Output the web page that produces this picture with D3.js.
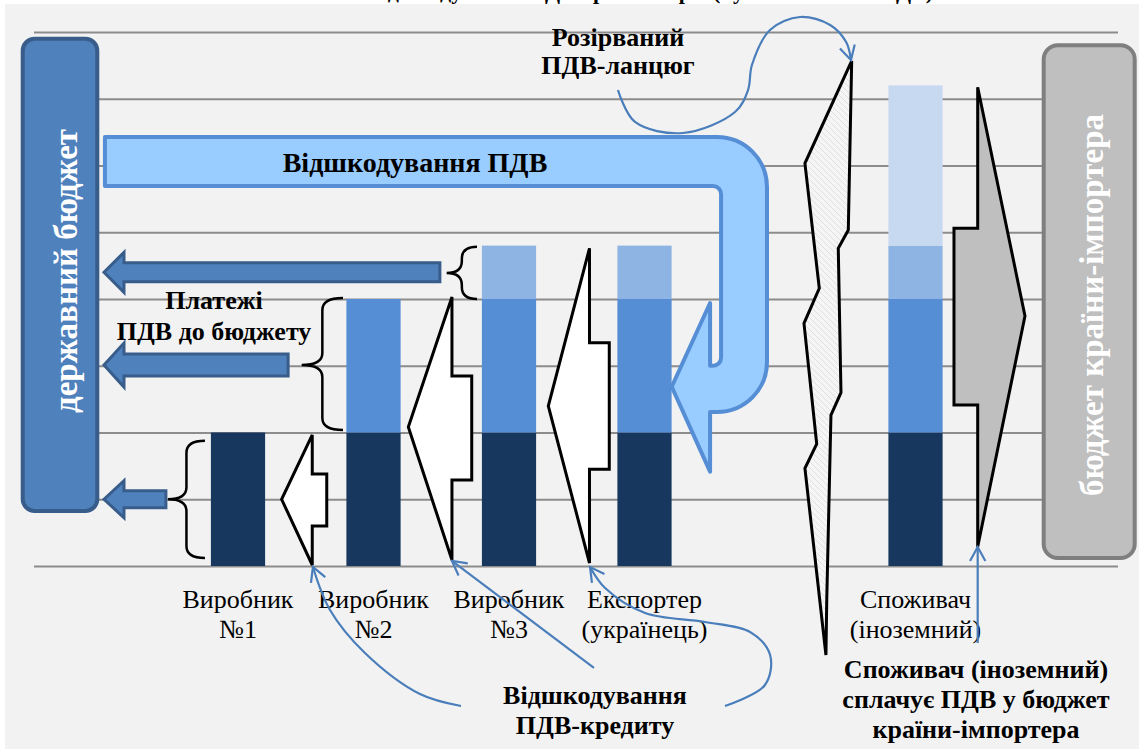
<!DOCTYPE html>
<html>
<head>
<meta charset="utf-8">
<script src="https://cdn.jsdelivr.net/npm/d3@7"></script>
<style>
  body { margin: 0; background: #fff; }
  svg { display: block; }
  text { font-family: "Liberation Serif", "Times New Roman", "DejaVu Serif", serif; }
</style>
</head>
<body>
<div id="chart"></div>
<script>
// ---- data ----
const slots = ["s0", "Виробник №1", "Виробник №2", "Виробник №3", "Експортер (українець)", "s5", "Споживач (іноземний)", "s7"]
const labels = [[], ["Виробник", "№1"], ["Виробник", "№2"], ["Виробник", "№3"], ["Експортер", "(українець)"], [], ["Споживач", "(іноземний)"], []]
const keys = ["base", "vat2", "vat3", "foreign"]
const base    = [0, 2, 2, 2,   2,   0, 2,   0]
const vat2    = [0, 0, 2, 2,   2,   0, 2,   0]
const vat3    = [0, 0, 0, 0.8, 0.8, 0, 0.8, 0]
const foreign = [0, 0, 0, 0,   0,   0, 2.4, 0]
const colors = ["#17375E", "#558ED5", "#8EB4E3", "#C6D9F1"]
const yTicks = [0, 1, 2, 3, 4, 5, 6, 7, 8]

// credit arrows (white), in [slot units, value units]
const creditA = [[2.048, 1.963], [2.048, 1.378], [2.155, 1.378], [2.155, 0.599], [2.048, 0.599], [2.048, 0.015], [1.822, 0.999]]
const creditB = [[3.079, 4.03], [3.079, 2.846], [3.225, 2.846], [3.225, 1.288], [3.079, 1.288], [3.079, 0.09], [2.757, 2.082]]
const creditC = [[4.094, 4.76], [4.094, 3.345], [4.240, 3.345], [4.240, 1.449], [4.094, 1.449], [4.094, 0.045], [3.790, 2.397]]
const importVat = [[6.959, 7.172], [7.308, 3.745], [6.959, 0.289], [6.959, 2.412], [6.784, 2.412], [6.784, 5.059], [6.959, 5.059]]
const brokenChain = [[6.029, 7.566], [6.004, 5.034], [5.930, 4.760], [5.950, 2.596], [5.876, 2.262], [5.845, -0.509], [5.839, -1.333],
                     [5.684, 1.464], [5.771, 1.828], [5.677, 3.636], [5.790, 4.160], [5.684, 6.033]]
// payments to budget: tail (slot units), centre (value), half shaft / half head (px)
const payments = [
  {tail: 2.99, v: 4.40, shaft: 9.5, head: 20},
  {tail: 1.87, v: 3.01, shaft: 11, head: 22},
  {tail: 0.968, v: 1.0, shaft: 8.5, head: 18.5}
]
const braces = [
  {tip: 0.983, right: 1.256, v0: 1.877, v1: 0.12, vm: 1.0},
  {tip: 1.970, right: 2.275, v0: 4.015, v1: 2.037, vm: 3.01},
  {tip: 3.040, right: 3.264, v0: 4.783, v1: 4.0, vm: 4.39}
]
// connectors (thin blue lines with arrow at the end)
const linkChain = [[4.304, 7.131], [4.430, 6.652], [4.784, 6.487], [5.168, 6.801], [5.264, 7.131], [5.293, 7.506], [5.426, 8.030], [5.648, 8.225], [5.870, 8.105], [5.988, 7.850], [6.024, 7.581]]
const linkCreditA = [[3.146, -2.097], [2.843, -1.918], [2.437, -1.303], [2.179, -0.659], [2.053, -0.015]]
const linkCreditB = [[4.127, -1.528], [3.079, 0.075]]
const linkCreditC = [[5.094, -2.097], [5.389, -1.783], [5.427, -1.333], [5.279, -0.989], [4.947, -0.839], [4.504, -0.704], [4.209, -0.330], [4.098, -0.015]]
const linkConsumer = [[6.959, -1.154], [6.959, 0.285]]

// ---- layout ----
const width = 1139
const height = 749
const serif = "Liberation Serif, Times New Roman, serif"
const svg = d3.select("#chart").append("svg").attr("width", width).attr("height", height)
  .attr("font-family", serif)

const x = d3.scaleBand().domain(slots).range([34.75, 1118.75]).paddingInner(0.6).paddingOuter(0.3)
const xs = d3.scaleLinear().domain([0, 8]).range([34.75, 1118.75])
const y = d3.scaleLinear().domain([0, 8]).range([566, 32])
const P = d => [xs(d[0]), y(d[1])]

const defs = svg.append("defs")
const pat = defs.append("pattern").attr("id", "hatch").attr("patternUnits", "userSpaceOnUse")
  .attr("width", 6).attr("height", 6)
pat.append("rect").attr("width", 6).attr("height", 6).attr("fill", "#f5f5f5")
pat.append("path").attr("d", "M0,0L6,6M-1,5L1,7M5,-1L7,1").attr("stroke", "#e0e0e0").attr("stroke-width", 1)

// background
svg.append("rect").attr("x", 5).attr("y", 4).attr("width", width - 5).attr("height", height - 4).attr("fill", "#f2f2f2")

// title, cut off at the top edge as in the source
svg.append("text").attr("x", 650).attr("y", -1).attr("text-anchor", "middle")
  .attr("font-size", 22).attr("font-weight", "bold").attr("fill", "#000")
  .text("Відшкодування ПДВ при експорті (нульова ставка ПДВ)")

// grid
const grid = svg.append("g").attr("transform", "translate(34,0)")
  .call(d3.axisLeft(y).tickValues(yTicks).tickSize(-1084).tickFormat(""))
grid.select(".domain").remove()
grid.selectAll("line").attr("stroke", "#8c8c8c").attr("stroke-width", 2)

// stacked bars
const rows = slots.map((s, i) => ({slot: s, base: base[i], vat2: vat2[i], vat3: vat3[i], foreign: foreign[i]}))
const series = d3.stack().keys(keys)(rows)
svg.append("g").selectAll("g").data(series).join("g")
  .attr("fill", (d, i) => colors[i])
  .selectAll("rect").data(d => d.filter(e => e[1] > e[0])).join("rect")
  .attr("x", d => x(d.data.slot))
  .attr("width", x.bandwidth())
  .attr("y", d => y(d[1]))
  .attr("height", d => y(d[0]) - y(d[1]))

// category labels
const lab = svg.append("g").attr("font-size", 26).attr("fill", "#000").attr("text-anchor", "middle")
slots.forEach((s, i) => {
  labels[i].forEach((t, j) => {
    lab.append("text").attr("x", x(s) + x.bandwidth() / 2).attr("y", 608 + j * 30)
      .attr("font-family", serif).text(t)
  })
})

// credit arrows & import arrow & broken chain
const poly = d3.line().x(d => xs(d[0])).y(d => y(d[1]))
svg.append("g").selectAll("path").data([creditA, creditB, creditC]).join("path")
  .attr("d", d => poly(d) + "Z").attr("fill", "#fff").attr("stroke", "#000").attr("stroke-width", 3)
svg.append("path").attr("d", poly(importVat) + "Z").attr("fill", "#bfbfbf").attr("stroke", "#000").attr("stroke-width", 3)
svg.append("path").attr("d", poly(brokenChain) + "Z").attr("fill", "url(#hatch)").attr("stroke", "#000").attr("stroke-width", 3)

// big U-turn arrow "Відшкодування ПДВ"
{
  const L = xs(0.518), R = xs(5.404), Ri = xs(5.065), H = xs(4.984), T = xs(4.701)
  const top = y(6.427), bandB = y(5.693), innerB = y(3.0), bot = y(2.307)
  const headT = y(3.94), tipY = y(2.686), headB = y(1.413)
  const r = 50, ri = 8
  const d = `M${L},${top}H${R - r}A${r},${r} 0 0 1 ${R},${top + r}V${bot - r}A${r},${r} 0 0 1 ${R - r},${bot}` +
    `H${H}V${headB}L${T},${tipY}L${H},${headT}V${innerB}H${Ri - ri}A${ri},${ri} 0 0 0 ${Ri},${innerB - ri}` +
    `V${bandB + ri}A${ri},${ri} 0 0 0 ${Ri - ri},${bandB}H${L}Z`
  svg.append("path").attr("d", d).attr("fill", "#99ccff").attr("stroke", "#558ed5").attr("stroke-width", 4)
    .attr("stroke-linejoin", "round")
  svg.append("text").attr("x", 415).attr("y", 172).attr("text-anchor", "middle").attr("font-family", serif)
    .attr("font-size", 28).attr("font-weight", "bold").text("Відшкодування ПДВ")
}

// payments to the budget
const tipX = xs(0.511)
svg.append("g").selectAll("path").data(payments).join("path")
  .attr("d", d => {
    const cy = y(d.v), hl = 20, t = xs(d.tail)
    return `M${tipX},${cy}L${tipX + hl},${cy - d.head}L${tipX + hl},${cy - d.shaft}L${t},${cy - d.shaft}` +
      `L${t},${cy + d.shaft}L${tipX + hl},${cy + d.shaft}L${tipX + hl},${cy + d.head}Z`
  })
  .attr("fill", "#4f81bd").attr("stroke", "#385d8a").attr("stroke-width", 3)

// braces
svg.append("g").selectAll("path").data(braces).join("path")
  .attr("d", b => {
    const xl = xs(b.tip), xr = xs(b.right), xm = (xl + xr) / 2
    const y0 = y(b.v0), y1 = y(b.v1), ym = y(b.vm), r = Math.min(12, (xr - xl) / 2)
    return `M${xr},${y0}Q${xm},${y0} ${xm},${y0 + r}L${xm},${ym - r}Q${xm},${ym} ${xl},${ym}` +
      `Q${xm},${ym} ${xm},${ym + r}L${xm},${y1 - r}Q${xm},${y1} ${xr},${y1}`
  })
  .attr("fill", "none").attr("stroke", "#000").attr("stroke-width", 2.5)

// budget boxes
svg.append("rect").attr("x", 22.7).attr("y", 38.7).attr("width", 74.6).attr("height", 472.3).attr("rx", 12)
  .attr("fill", "#4f81bd").attr("stroke", "#385d8a").attr("stroke-width", 4)
svg.append("text").attr("transform", "translate(77,271) rotate(-90)").attr("text-anchor", "middle")
  .attr("font-family", serif).attr("font-size", 33).attr("font-weight", "bold").attr("fill", "#fff").text("державний бюджет")
svg.append("rect").attr("x", 1043.7).attr("y", 45.3).attr("width", 91).attr("height", 512.7).attr("rx", 14)
  .attr("fill", "#bfbfbf").attr("stroke", "#7f7f7f").attr("stroke-width", 4)
svg.append("text").attr("transform", "translate(1103,305) rotate(-90)").attr("text-anchor", "middle")
  .attr("font-family", serif).attr("font-size", 33).attr("font-weight", "bold").attr("fill", "#fff").text("бюджет країни-імпортера")

// annotations
const note = (lines, cx, y0, dy) => {
  lines.forEach((t, i) => {
    svg.append("text").attr("x", cx).attr("y", y0 + i * dy).attr("text-anchor", "middle")
      .attr("font-family", serif).attr("font-size", 26).attr("font-weight", "bold").text(t)
  })
}
note(["Розірваний", "ПДВ-ланцюг"], 618, 46, 28)
note(["Платежі", "ПДВ до бюджету"], 214, 309, 31)
note(["Відшкодування", "ПДВ-кредиту"], 595, 704, 30)
note(["Споживач (іноземний)", "сплачує ПДВ у бюджет", "країни-імпортера"], 976, 678, 30)

// connectors
const curve = d3.line().x(d => xs(d[0])).y(d => y(d[1])).curve(d3.curveCatmullRom)
const links = [linkChain, linkCreditA, linkCreditB, linkCreditC, linkConsumer]
const lg = svg.append("g").attr("fill", "none").attr("stroke", "#4a7ebb").attr("stroke-width", 2.2)
links.forEach(pts => {
  lg.append("path").attr("d", curve(pts))
  const a = P(pts[pts.length - 2]), b = P(pts[pts.length - 1])
  const ang = Math.atan2(b[1] - a[1], b[0] - a[0])
  const len = 16, spread = 0.5
  const p1 = [b[0] - len * Math.cos(ang - spread), b[1] - len * Math.sin(ang - spread)]
  const p2 = [b[0] - len * Math.cos(ang + spread), b[1] - len * Math.sin(ang + spread)]
  lg.append("path").attr("d", `M${p1}L${b}L${p2}`)
})
</script>
</body>
</html>
